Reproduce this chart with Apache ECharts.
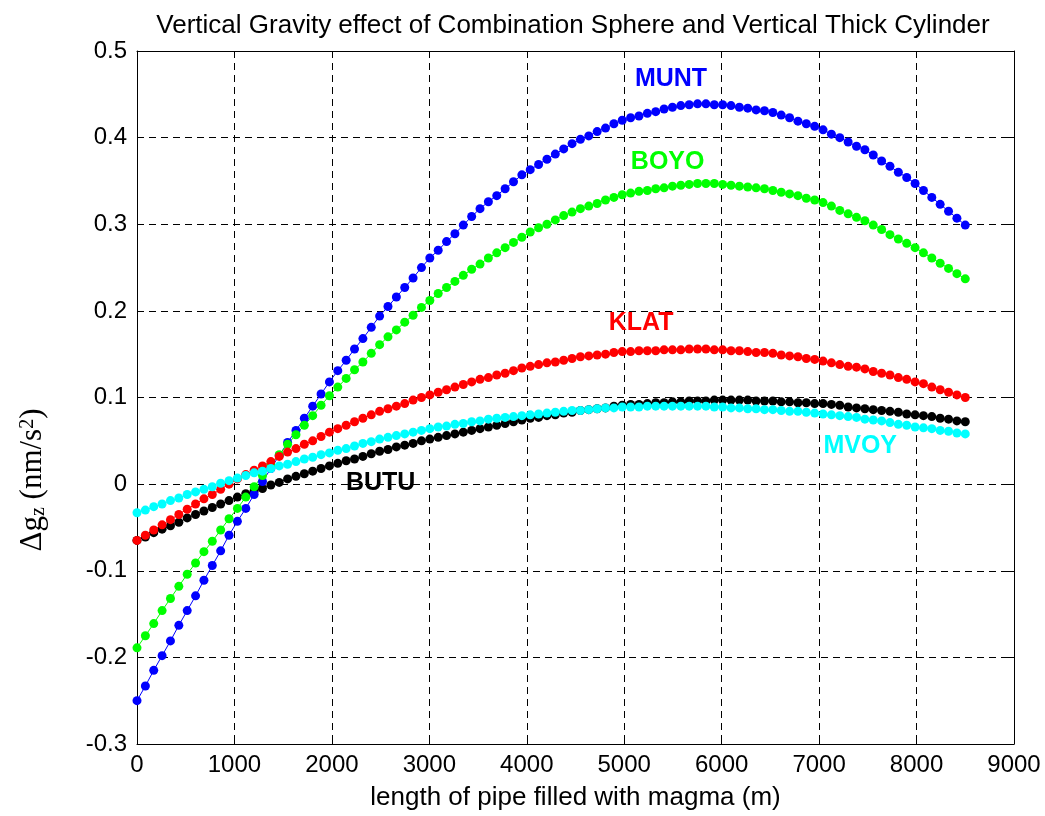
<!DOCTYPE html>
<html>
<head>
<meta charset="utf-8">
<script src="https://cdn.jsdelivr.net/npm/echarts@6/dist/echarts.min.js"></script>
<style>
html,body{margin:0;padding:0;background:#ffffff;}
#chart{width:1045px;height:816px;}
</style>
</head>
<body>
<div id="chart"></div>
<script>
// ---- data ----
const pipeLengthMax = 8500;       // m, last sample
const sampleCount = 100;          // samples from 0 to 8500 m in equal steps
const xTickMin = 0, xTickMax = 9000, xTickStep = 1000;
const yTickMin = -0.3, yTickMax = 0.5, yTickStep = 0.1;

const MUNT = [
 -0.250,-0.233,-0.215,-0.198,-0.181,-0.163,-0.146,-0.129,-0.111,-0.094,
 -0.077,-0.059,-0.043,-0.028,-0.012,0.003,0.018,0.033,0.048,0.062,
 0.076,0.090,0.104,0.118,0.131,0.143,0.156,0.168,0.181,0.194,
 0.205,0.216,0.227,0.238,0.250,0.261,0.270,0.280,0.289,0.299,
 0.309,0.318,0.326,0.333,0.341,0.349,0.357,0.363,0.369,0.375,
 0.381,0.387,0.393,0.398,0.402,0.407,0.411,0.416,0.420,0.423,
 0.425,0.428,0.430,0.433,0.435,0.437,0.438,0.439,0.439,0.438,
 0.438,0.437,0.435,0.434,0.432,0.431,0.429,0.426,0.423,0.419,
 0.416,0.413,0.409,0.404,0.400,0.395,0.390,0.386,0.380,0.373,
 0.367,0.360,0.354,0.347,0.339,0.331,0.323,0.315,0.307,0.299
];
const BOYO = [
 -0.189,-0.175,-0.161,-0.146,-0.132,-0.118,-0.104,-0.091,-0.078,-0.066,
 -0.053,-0.040,-0.028,-0.015,-0.003,0.010,0.022,0.034,0.046,0.057,
 0.068,0.079,0.091,0.102,0.112,0.122,0.132,0.141,0.151,0.161,
 0.170,0.178,0.187,0.195,0.204,0.212,0.220,0.227,0.234,0.241,
 0.248,0.254,0.261,0.267,0.273,0.279,0.285,0.291,0.296,0.300,
 0.305,0.310,0.314,0.318,0.321,0.324,0.328,0.331,0.334,0.336,
 0.338,0.339,0.341,0.342,0.344,0.345,0.346,0.347,0.347,0.347,
 0.346,0.345,0.344,0.343,0.342,0.341,0.339,0.337,0.335,0.333,
 0.330,0.328,0.325,0.321,0.316,0.312,0.308,0.304,0.299,0.294,
 0.288,0.283,0.278,0.273,0.267,0.261,0.255,0.249,0.243,0.237
];
const KLAT = [
 -0.065,-0.059,-0.053,-0.047,-0.041,-0.035,-0.029,-0.023,-0.017,-0.012,
 -0.006,0.000,0.006,0.011,0.016,0.021,0.026,0.032,0.037,0.041,
 0.046,0.050,0.055,0.060,0.064,0.068,0.072,0.076,0.080,0.084,
 0.087,0.090,0.093,0.097,0.100,0.103,0.106,0.109,0.112,0.115,
 0.118,0.121,0.123,0.126,0.128,0.131,0.134,0.136,0.138,0.140,
 0.141,0.143,0.145,0.147,0.148,0.149,0.150,0.152,0.153,0.153,
 0.154,0.154,0.154,0.155,0.155,0.155,0.156,0.156,0.156,0.155,
 0.155,0.154,0.154,0.153,0.152,0.152,0.151,0.149,0.148,0.147,
 0.145,0.144,0.142,0.140,0.138,0.136,0.135,0.133,0.130,0.128,
 0.126,0.123,0.121,0.118,0.116,0.112,0.109,0.106,0.103,0.100
];
const BUTU = [
 -0.065,-0.061,-0.056,-0.052,-0.048,-0.044,-0.039,-0.035,-0.031,-0.027,
 -0.023,-0.019,-0.015,-0.011,-0.008,-0.005,-0.001,0.002,0.006,0.009,
 0.012,0.015,0.018,0.021,0.024,0.027,0.029,0.032,0.035,0.038,
 0.040,0.043,0.045,0.047,0.050,0.052,0.054,0.056,0.058,0.060,
 0.062,0.064,0.066,0.068,0.070,0.072,0.074,0.076,0.077,0.079,
 0.080,0.082,0.083,0.085,0.086,0.087,0.088,0.090,0.091,0.092,
 0.092,0.093,0.094,0.094,0.095,0.095,0.096,0.096,0.096,0.097,
 0.097,0.097,0.097,0.097,0.096,0.096,0.096,0.095,0.095,0.094,
 0.094,0.093,0.093,0.092,0.091,0.089,0.088,0.087,0.086,0.085,
 0.084,0.083,0.081,0.080,0.079,0.078,0.076,0.075,0.073,0.072
];
const MVOY = [
 -0.033,-0.030,-0.026,-0.023,-0.019,-0.016,-0.012,-0.009,-0.006,-0.003,
 0.001,0.004,0.007,0.010,0.013,0.015,0.018,0.021,0.023,0.026,
 0.029,0.031,0.034,0.036,0.039,0.041,0.044,0.047,0.049,0.052,
 0.054,0.056,0.058,0.060,0.062,0.064,0.066,0.067,0.069,0.070,
 0.072,0.073,0.075,0.076,0.077,0.078,0.079,0.080,0.081,0.082,
 0.083,0.084,0.085,0.085,0.086,0.087,0.088,0.088,0.089,0.089,
 0.089,0.090,0.090,0.090,0.090,0.090,0.090,0.090,0.090,0.089,
 0.089,0.088,0.088,0.087,0.087,0.086,0.086,0.085,0.084,0.084,
 0.083,0.082,0.081,0.080,0.079,0.078,0.077,0.075,0.074,0.073,
 0.071,0.069,0.068,0.066,0.065,0.064,0.062,0.061,0.059,0.058
];

const titleText = 'Vertical Gravity effect of Combination Sphere and Vertical Thick Cylinder';
const xName = 'length of pipe filled with magma (m)';

// ---- build ----
const lengths = [];
for (let i = 0; i < sampleCount; i++) lengths.push(i * pipeLengthMax / (sampleCount - 1));
const pairs = arr => arr.map((v, i) => [lengths[i], v]);

const SANS = '"Liberation Sans", Arial, Helvetica, sans-serif';
const SERIF = '"Liberation Serif", "Times New Roman", serif';

// drawing order: later ones on top
const seriesDefs = [
  {name: 'BUTU', data: BUTU, color: '#000000', label: [2500, 0.001]},
  {name: 'MUNT', data: MUNT, color: '#0000ff', label: [5480, 0.468]},
  {name: 'BOYO', data: BOYO, color: '#00ff00', label: [5446, 0.372]},
  {name: 'KLAT', data: KLAT, color: '#ff0000', label: [5174, 0.186]},
  {name: 'MVOY', data: MVOY, color: '#00ffff', label: [7422, 0.044]}
];

const chart = echarts.init(document.getElementById('chart'), null, {renderer: 'canvas'});

const gridLine = {show: true, lineStyle: {color: '#000000', width: 1, type: [7, 5]}};
const boxLine = {show: true, onZero: false, lineStyle: {color: '#000000', width: 1}};
const innerTick = {show: true, inside: true, length: 6, lineStyle: {color: '#000000', width: 1}};
const plainNum = v => String(Math.round(v * 1000) / 1000);

const option = {
  animation: false,
  backgroundColor: '#ffffff',
  title: {
    text: titleText,
    left: 568,
    textAlign: 'center',
    top: 8,
    textStyle: {fontFamily: SANS, fontSize: 26, fontWeight: 'normal', color: '#000000'}
  },
  grid: {left: 137, right: 31, top: 51, bottom: 72, containLabel: false},
  xAxis: [
    {
      type: 'value', position: 'bottom', min: xTickMin, max: xTickMax, interval: xTickStep,
      name: xName, nameLocation: 'middle', nameGap: 41,
      nameTextStyle: {fontFamily: SANS, fontSize: 26, color: '#000000'},
      axisLine: boxLine, axisTick: innerTick, splitLine: gridLine,
      axisLabel: {fontFamily: SANS, fontSize: 24, color: '#000000', margin: 9, formatter: plainNum}
    },
    {
      type: 'value', position: 'top', min: xTickMin, max: xTickMax, interval: xTickStep,
      axisLine: boxLine, axisTick: innerTick, splitLine: {show: false}, axisLabel: {show: false}
    }
  ],
  yAxis: [
    {
      type: 'value', position: 'left', min: yTickMin, max: yTickMax, interval: yTickStep,
      axisLine: boxLine, axisTick: innerTick, splitLine: gridLine,
      axisLabel: {fontFamily: SANS, fontSize: 24, color: '#000000', margin: 10, formatter: plainNum}
    },
    {
      type: 'value', position: 'right', min: yTickMin, max: yTickMax, interval: yTickStep,
      axisLine: boxLine, axisTick: innerTick, splitLine: {show: false}, axisLabel: {show: false}
    }
  ],
  series: seriesDefs.map(s => ({
    name: s.name,
    type: 'line',
    xAxisIndex: 0, yAxisIndex: 0,
    data: pairs(s.data),
    showSymbol: true, showAllSymbol: true,
    symbol: 'circle', symbolSize: 9,
    itemStyle: {color: s.color, borderWidth: 0},
    lineStyle: {color: s.color, width: 1},
    emphasis: {disabled: true},
    silent: true,
    markPoint: {
      symbol: 'circle', symbolSize: 0,
      silent: true,
      label: {
        show: true, position: 'inside', formatter: s.name,
        fontFamily: SANS, fontSize: 25, fontWeight: 'bold', color: s.color
      },
      data: [{coord: s.label, name: s.name}]
    }
  })),
  graphic: [
    {
      type: 'text',
      x: 33, y: 480,
      rotation: Math.PI / 2,
      style: {
        text: '{m|Δg}{s|z}{m| (nm/s}{p|2}{m|)}',
        align: 'center', verticalAlign: 'middle',
        fill: '#000000',
        rich: {
          m: {fontFamily: SERIF, fontSize: 31, fill: '#000000'},
          s: {fontFamily: SERIF, fontSize: 20, fill: '#000000', verticalAlign: 'bottom'},
          p: {fontFamily: SERIF, fontSize: 20, fill: '#000000', verticalAlign: 'top'}
        }
      }
    }
  ]
};
chart.setOption(option);
</script>
</body>
</html>
